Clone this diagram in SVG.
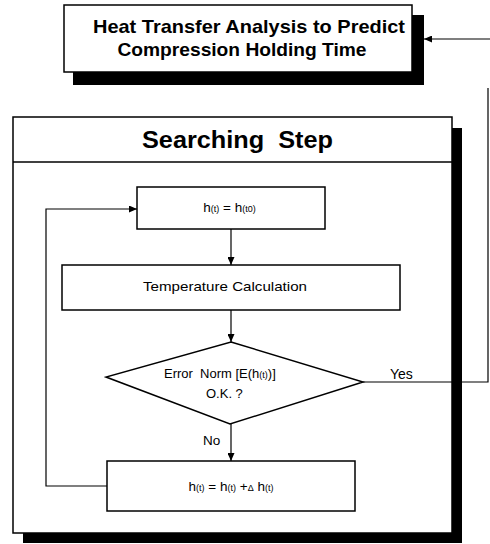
<svg xmlns="http://www.w3.org/2000/svg" width="490" height="544" viewBox="0 0 490 544">
<style>
.box{fill:#fff;stroke:#000;stroke-width:1.5}
.sh{fill:#000}
.t{font-family:"Liberation Sans",Arial,sans-serif;fill:#000}
.b{font-weight:bold}
.c{stroke:#000;stroke-width:1.2;fill:none}
.s{font-size:9px}
</style>
<defs>
<marker id="ar" markerUnits="userSpaceOnUse" markerWidth="8" markerHeight="7" refX="8" refY="3.5" orient="auto">
<path d="M0,0 L8,3.5 L0,7 z" fill="#000"/>
</marker>
</defs>
<rect x="0" y="0" width="490" height="544" fill="#fff"/>
<g id="heat-transfer">
<rect class="sh" x="73" y="15" width="351" height="70"/>
<rect class="box" x="64" y="5" width="348" height="67"/>
<text class="t b" x="249" y="33" font-size="19" text-anchor="middle" textLength="312" lengthAdjust="spacingAndGlyphs">Heat Transfer Analysis to Predict</text>
<text class="t b" x="242" y="56" font-size="19" text-anchor="middle" textLength="249" lengthAdjust="spacingAndGlyphs">Compression Holding Time</text>
</g>
<g id="searching-step">
<rect class="sh" x="23" y="128" width="439" height="415"/>
<rect class="box" x="13" y="117" width="439" height="416"/>
<line x1="13" y1="162" x2="452" y2="162" stroke="#000" stroke-width="1.5"/>
<text class="t b" x="237.5" y="148" font-size="23" text-anchor="middle" textLength="191" lengthAdjust="spacingAndGlyphs" xml:space="preserve">Searching  Step</text>
</g>
<g id="init">
<rect class="box" x="137" y="187" width="188" height="42"/>
<text class="t" x="229.5" y="212" font-size="13.5" text-anchor="middle">h<tspan class="s">(t)</tspan> = h<tspan class="s">(t0)</tspan></text>
</g>
<g id="temperature">
<rect class="box" x="62" y="265" width="338" height="45"/>
<text class="t" x="225" y="291" font-size="13.5" text-anchor="middle" textLength="164" lengthAdjust="spacingAndGlyphs">Temperature Calculation</text>
</g>
<g id="decision">
<polygon class="box" points="231,342 363,382 230,424 106,377"/>
<text class="t" x="164" y="378" font-size="13" xml:space="preserve">Error  Norm [E(h<tspan class="s">(t)</tspan>)]</text>
<text class="t" x="206" y="398" font-size="13">O.K. ?</text>
</g>
<g id="update">
<rect class="box" x="107" y="461" width="248" height="50"/>
<text class="t" x="231" y="491" font-size="13.5" text-anchor="middle">h<tspan class="s">(t)</tspan> = h<tspan class="s">(t)</tspan> +<tspan class="s">Δ</tspan> h<tspan class="s">(t)</tspan></text>
</g>
<g id="connectors">
<path class="c" d="M363,382 H488 V88"/>
<path class="c" d="M490,39 H424" marker-end="url(#ar)"/>
<path class="c" d="M231,229 V265" marker-end="url(#ar)"/>
<path class="c" d="M231,310 V342" marker-end="url(#ar)"/>
<path class="c" d="M231,424 V461" marker-end="url(#ar)"/>
<path class="c" d="M107,486 H46 V209 H137" marker-end="url(#ar)"/>
<text class="t" x="390" y="379" font-size="14">Yes</text>
<text class="t" x="203" y="445" font-size="13.5">No</text>
</g>
</svg>
